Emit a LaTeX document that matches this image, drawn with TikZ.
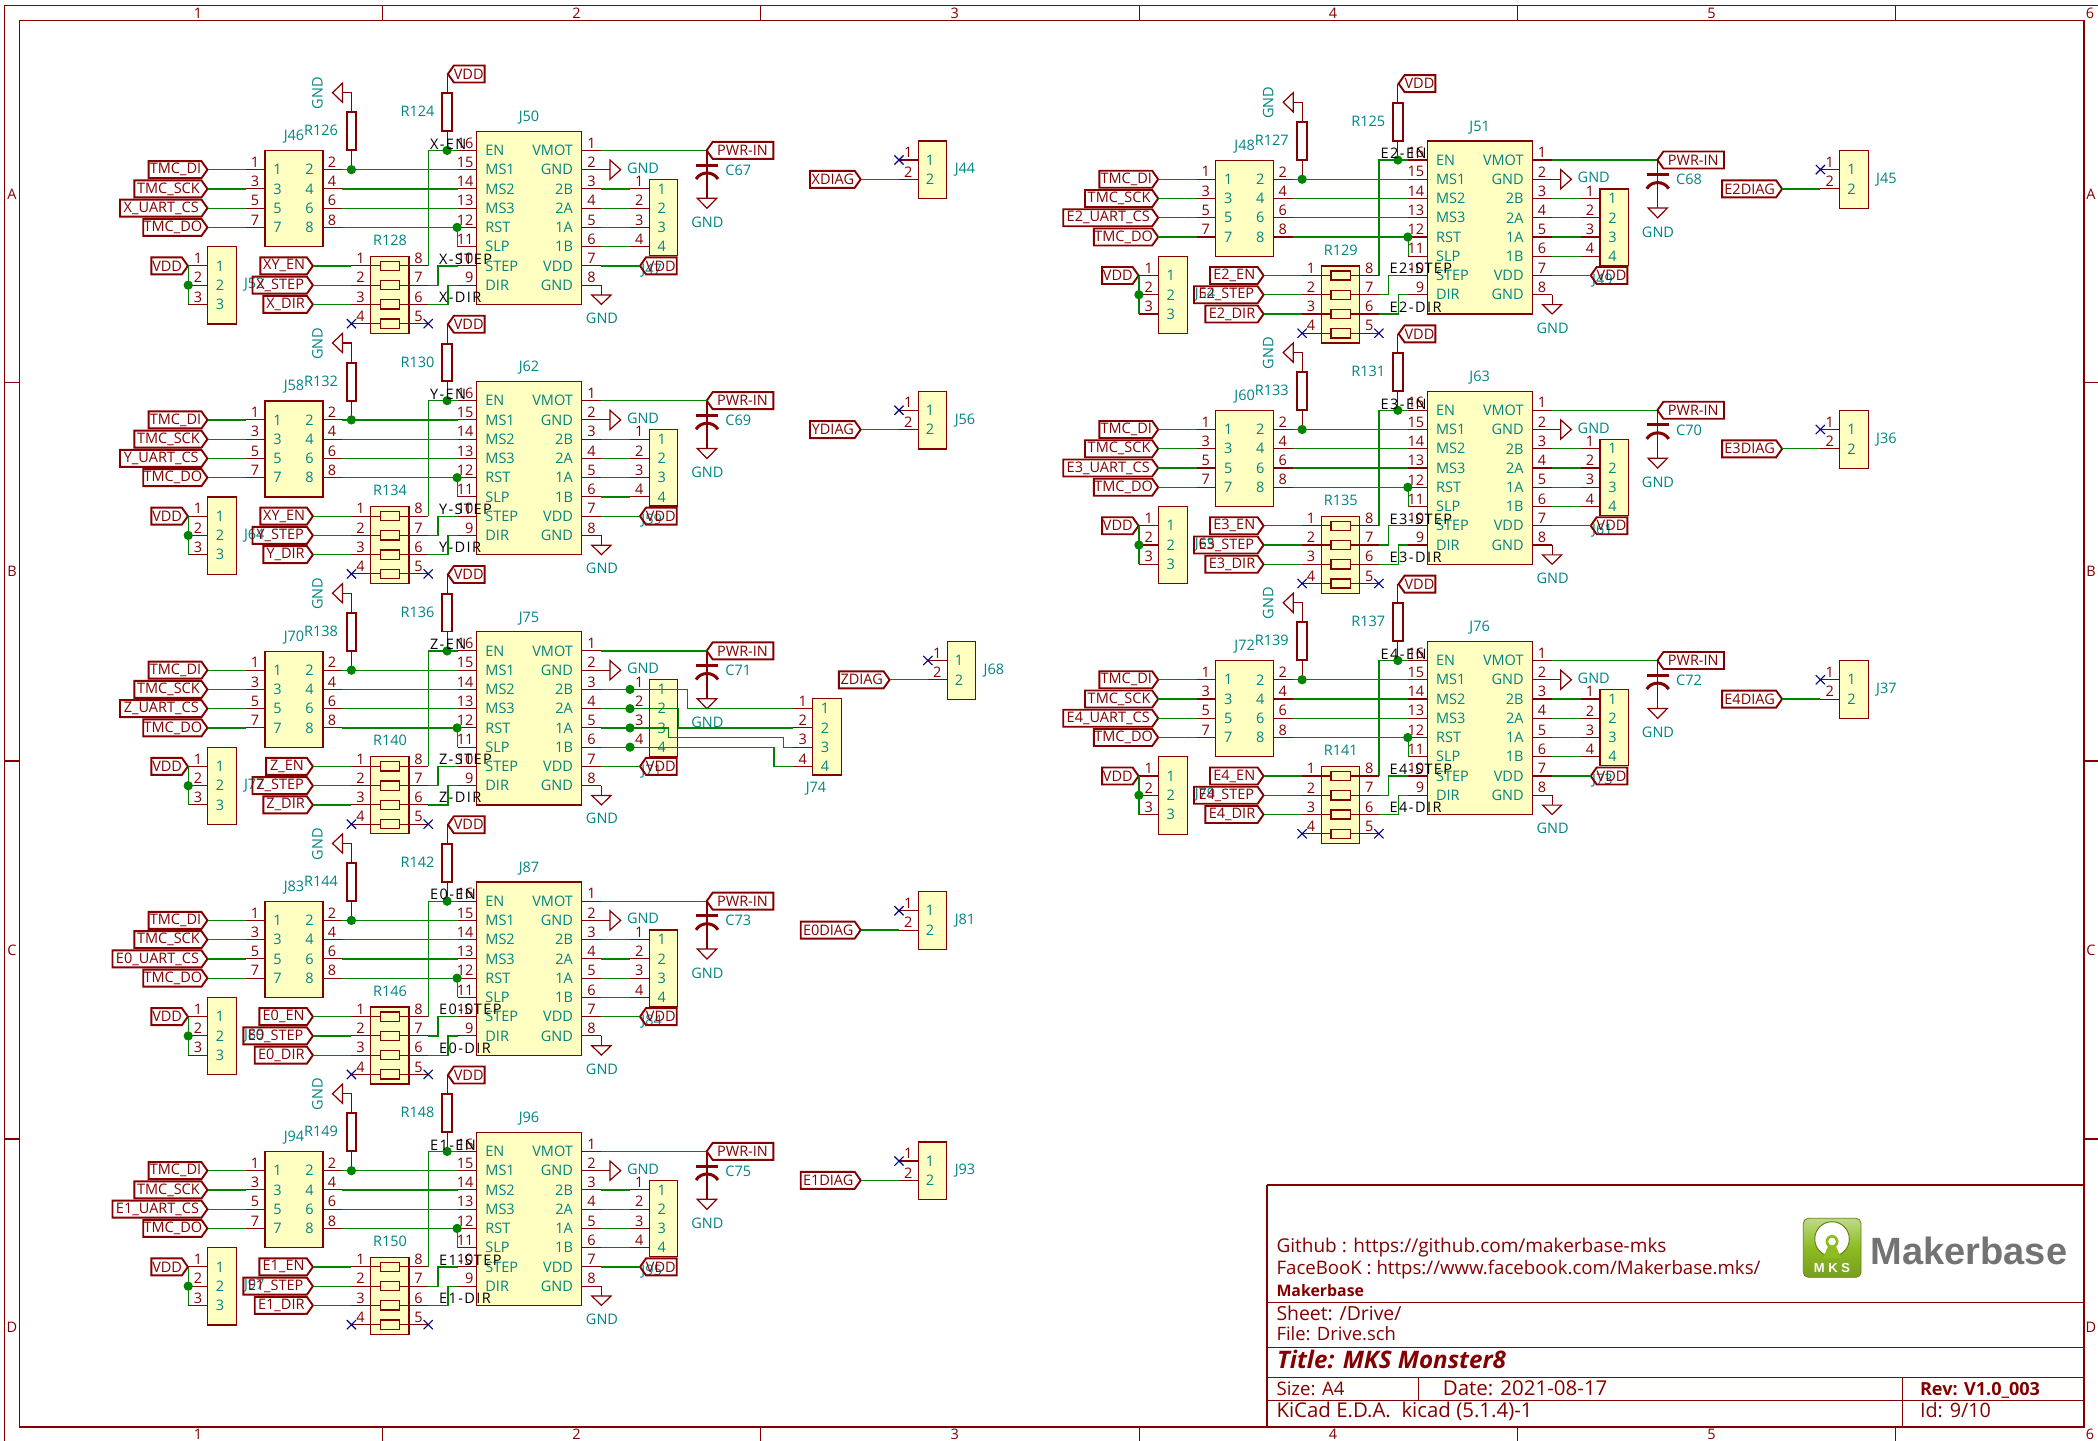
\documentclass[tikz,border=0pt]{standalone}
\usepackage{fontspec}
\usepackage{graphicx}
\setmainfont{Open Sans}
\newfontfamily\logofont{Liberation Sans}
\definecolor{kred}{HTML}{840000}
\definecolor{kteal}{HTML}{008484}
\definecolor{kgreen}{HTML}{008400}
\definecolor{kfill}{HTML}{FFFFC2}
\definecolor{kblue}{HTML}{000084}
\definecolor{lgreen}{HTML}{8CBB22}
\newcount\nid
\newcommand\rw[1]{\fpeval{150.4+19.25*(#1)}}
\newcommand\tx[4]{\global\advance\nid by 1 \node[#1] (t\the\nid) at (#2,#3) {#4};}
\tikzset{
  base/.style={inner sep=0pt,outer sep=0pt,font=\fontsize{14.5}{14.5}\selectfont},
  ttxt/.style={base,text=kteal},
  rtxt/.style={base,text=kred},
  ktxt/.style={base,text=black,font=\fontsize{14.5}{14.5}\selectfont\addfontfeature{LetterSpace=10}},
  ltxt/.style={base,text=kred},
  wire/.style={draw=kgreen,line width=1.3pt},
  pin/.style={draw=kred,line width=1.1pt},
  body/.style={draw=kred,fill=kfill,line width=1.2pt},
  lab/.style={draw=kred,line width=1.9pt,line join=miter},
  res/.style={draw=kred,fill=white,line width=1.9pt},
  resin/.style={draw=kred,fill=kfill,line width=1.3pt},
  gndt/.style={draw=kred,line width=1.2pt,line join=miter},
  junc/.style={circle,fill=kgreen,inner sep=0pt,minimum size=9.3pt},
  nc/.style={draw=kblue,line width=1.1pt},
  frame/.style={draw=kred,line width=1.1pt},
  tb/.style={base,text=kred,anchor=base west}
}
% hierarchical labels: tip x, y, width, text, node name
\newcommand\hlabR[5]{%
  \draw[lab] ({#1-#3},{#2-8.5}) -- ({#1-6},{#2-8.5}) -- (#1,#2) -- ({#1-6},{#2+8.5}) -- ({#1-#3},{#2+8.5}) -- cycle;
  \node[ltxt] (#5) at ({#1-#3/2-2.5},#2) {#4};
  \coordinate (#5-t) at (#1,#2);}
\newcommand\hlabL[5]{%
  \draw[lab] ({#1+#3},{#2-8.5}) -- ({#1+6},{#2-8.5}) -- (#1,#2) -- ({#1+6},{#2+8.5}) -- ({#1+#3},{#2+8.5}) -- cycle;
  \node[ltxt] (#5) at ({#1+#3/2+2.5},#2) {#4};
  \coordinate (#5-t) at (#1,#2);}
\newcommand\ncx[2]{\draw[nc] ({#1-4.6},{#2-4.6}) -- ({#1+4.6},{#2+4.6}) ({#1-4.6},{#2+4.6}) -- ({#1+4.6},{#2-4.6});}
% driver block
\newcommand\drv[9]{\def\dvX{#1}\def\dvY{#2}\def\dvP{#3}\def\dvRt{#4}\def\dvRg{#5}\def\dvJc{#6}\def\dvJq{#7}\def\dvJh{#8}\def\dvRp{#9}\drvB}
\newcommand\drvB[9]{\def\dvC{#1}\def\dvU{#2}\def\dvUw{#3}\def\dvE{#4}\def\dvEw{#5}\def\dvS{#6}\def\dvSw{#7}\def\dvD{#8}\def\dvDw{#9}\drvC}
\newcommand\drvC[1]{%
\begin{scope}[shift={(\dvX,\dvY)}]
  % named pin ends
  \foreach \i in {0,...,7}{
    \coordinate (\dvP-mL\i) at (457.5,\rw{\i});
    \coordinate (\dvP-mR\i) at (601.4,\rw{\i});}
  \foreach \i in {1,...,4}{
    \coordinate (\dvP-cL\i) at (246,\rw{\i});
    \coordinate (\dvP-cR\i) at (341.8,\rw{\i});
    \coordinate (\dvP-pL\i) at (351.4,\rw{\i+5});
    \coordinate (\dvP-pR\i) at (428.2,\rw{\i+5});
    \coordinate (\dvP-q\i) at (630,\rw{\i+1});}
  \coordinate (\dvP-sj) at (437.9,\rw{7});
  \coordinate (\dvP-dj) at (447.9,\rw{8});
  \coordinate (\dvP-h1) at (188.2,\rw{6});
  \coordinate (\dvP-h2) at (188.2,\rw{7});
  \coordinate (\dvP-h3) at (188.2,\rw{8});
  \coordinate (\dvP-pwr) at (707,\rw{0});
  % main module
  \draw[body] (476.4,131.3) rectangle (581.8,304.4);
  \foreach \i/\n/\a/\m/\b in {0/16/EN/1/VMOT,1/15/MS1/2/GND,2/14/MS2/3/2B,3/13/MS3/4/2A,4/12/RST/5/1A,5/11/SLP/6/1B,6/10/STEP/7/VDD,7/9/DIR/8/GND}{
    \draw[pin] (\dvP-mL\i) -- ++(18.9,0);
    \draw[pin] (\dvP-mR\i) -- ++(-19.6,0);
    \tx{rtxt,anchor=east}{473.5}{\rw{\i}-7.5}{\n}
    \tx{rtxt}{591.4}{\rw{\i}-7.5}{\m}
    \tx{ttxt,anchor=west}{485.4}{\rw{\i}}{\a}
    \tx{ttxt,anchor=east}{572.9}{\rw{\i}}{\b}
  }
  \tx{ttxt}{529}{117.7}{\dvP}
  % 8-pin header
  \draw[body] (265,150.7) rectangle (322.9,246.7);
  \foreach \i/\a/\b in {1/1/2,2/3/4,3/5/6,4/7/8}{
    \draw[pin] (\dvP-cL\i) -- ++(19,0);
    \draw[pin] (\dvP-cR\i) -- ++(-18.9,0);
    \tx{rtxt}{255}{\rw{\i}-7.5}{\a}
    \tx{rtxt}{332}{\rw{\i}-7.5}{\b}
    \tx{ttxt}{277.5}{\rw{\i}}{\a}
    \tx{ttxt}{309.6}{\rw{\i}}{\b}
    \draw[wire] (\dvP-cR\i) -- (\dvP-mL\i);
  }
  \tx{ttxt}{294}{136.7}{\dvJc}
  \hlabR{207.5}{\rw{1}}{58.9}{TMC\_DI}{\dvP-di}
  \hlabR{207.5}{\rw{2}}{73.2}{TMC\_SCK}{\dvP-sck}
  \hlabR{207.5}{\rw{3}}{\dvUw}{\dvU}{\dvP-cs}
  \hlabR{207.5}{\rw{4}}{64.3}{TMC\_DO}{\dvP-do}
  \draw[wire] (\dvP-di-t) -- (\dvP-cL1);
  \draw[wire] (\dvP-sck-t) -- (\dvP-cL2);
  \draw[wire] (\dvP-cs-t) -- (\dvP-cL3);
  \draw[wire] (\dvP-do-t) -- (\dvP-cL4);
  % top pull-up
  \hlabL{447.9}{74}{36.7}{VDD}{\dvP-vt}
  \draw[res] (442.3,93.3) rectangle (451.9,131);
  \draw[pin] (447.1,74) -- (447.1,93.3) (447.1,131) -- (447.1,\rw{0});
  \tx{ttxt}{417.5}{111.7}{\dvRt}
  % ground pull
  \draw[res] (346.6,112.3) rectangle (356.2,150.3);
  \draw[pin] (351.4,\rw{1}) -- (351.4,150.3) (351.4,112.3) -- (351.4,92.7) -- (342.5,92.7);
  \draw[gndt] (342.5,83.1) -- (342.5,102.3) -- (332.5,92.7) -- cycle;
  \tx{ttxt,rotate=90}{317.5}{93.3}{GND}
  \tx{ttxt}{321}{130.7}{\dvRg}
  % wiring to module
  \draw[wire] (\dvP-pR1) |- (\dvP-mL0);
  \draw[wire] (\dvP-pR2) -- (\dvP-sj) |- (\dvP-mL6);
  \draw[wire] (\dvP-pR3) -- (\dvP-dj) |- (\dvP-mL7);
  \draw[wire] (\dvP-mL4) -- (\dvP-mL5);
  \node[junc] (\dvP-j1) at (447.1,\rw{0}) {};
  \node[junc] (\dvP-j2) at (351.4,\rw{1}) {};
  \node[junc] (\dvP-j3) at (457.1,\rw{4}) {};
  \tx{ktxt,anchor=west}{430}{144}{#1-EN}
  \tx{ktxt,anchor=west}{439}{259}{#1-STEP}
  \tx{ktxt,anchor=west}{439}{297.3}{#1-DIR}
  % 3-pin header
  \draw[body] (207.5,246.7) rectangle (236.4,324);
  \foreach \i in {1,2,3}{
    \draw[pin] (\dvP-h\i) -- ++(19.3,0);
    \tx{rtxt}{198}{\rw{\i+5}-7.5}{\i}
    \tx{ttxt}{220}{\rw{\i+5}}{\i}}
  \tx{ttxt}{254.3}{285}{\dvJh}
  \hlabR{187.9}{\rw{6}}{36.5}{VDD}{\dvP-vh}
  \draw[wire] (\dvP-h1) -- (\dvP-h3);
  \node[junc] (\dvP-j4) at (\dvP-h2) {};
  % resistor pack
  \draw[body] (370.7,256.3) rectangle (408.9,333.3);
  \foreach \i/\a/\b in {1/1/8,2/2/7,3/3/6,4/4/5}{
    \draw[pin] (\dvP-pL\i) -- (\dvP-pR\i);
    \draw[resin] (380.4,\rw{\i+5}-4.6) rectangle (399.6,\rw{\i+5}+4.6);
    \tx{rtxt}{360.4}{\rw{\i+5}-7.5}{\a}
    \tx{rtxt}{418.6}{\rw{\i+5}-7.5}{\b}}
  \ncx{351.4}{\rw{9}}
  \ncx{428.2}{\rw{9}}
  \tx{ttxt}{390}{240.3}{\dvRp}
  \hlabR{312.9}{\rw{6}}{\dvEw}{\dvE}{\dvP-en}
  \hlabR{312.9}{\rw{7}}{\dvSw}{\dvS}{\dvP-st}
  \hlabR{312.9}{\rw{8}}{\dvDw}{\dvD}{\dvP-dr}
  \draw[wire] (\dvP-en-t) -- (\dvP-pL1);
  \draw[wire] (\dvP-st-t) -- (\dvP-pL2);
  \draw[wire] (\dvP-dr-t) -- (\dvP-pL3);
  % 4-pin motor header
  \draw[body] (649.3,179.3) rectangle (677.7,255.7);
  \foreach \i in {1,2,3,4}{
    \draw[pin] (\dvP-q\i) -- ++(19.3,0);
    \tx{rtxt}{639.3}{\rw{\i+1}-7.5}{\i}
    \tx{ttxt}{661.7}{\rw{\i+1}}{\i}}
  \draw[wire] (\dvP-mR2) -- (\dvP-q1);
  \draw[wire] (\dvP-mR3) -- (\dvP-q2);
  \draw[wire] (\dvP-mR4) -- (\dvP-q3);
  \draw[wire] (\dvP-mR5) -- (\dvP-q4);
  \tx{ttxt}{651.7}{270.7}{\dvJq}
  \hlabL{640}{\rw{6}}{36.7}{VDD}{\dvP-vq}
  \draw[wire] (\dvP-mR6) -- (\dvP-vq-t);
  % GNDs on module
  \draw[pin] (601.4,\rw{1}) -- (610,\rw{1});
  \draw[gndt] (610,\rw{1}-9.6) -- (620.7,\rw{1}) -- (610,\rw{1}+9.6) -- cycle;
  \tx{ttxt,anchor=west}{627}{168}{GND}
  \draw[pin] (601.4,\rw{7}) -- (601.4,295);
  \draw[gndt] (591.8,295) -- (611,295) -- (601.4,304.4) -- cycle;
  \tx{ttxt}{602}{318.3}{GND}
  % power and capacitor
  \hlabL{706.7}{\rw{0}}{66.6}{PWR-IN}{\dvP-pw}
  \draw[wire] (\dvP-mR0) -- (\dvP-pw-t);
  \draw[pin] (707,\rw{0}) -- (707,198.3);
  \draw[draw=kred,line width=3pt] (696,165) -- (718,165);
  \draw[draw=kred,line width=3pt] (696,179) .. controls (701,171) and (713,171) .. (718,179);
  \draw[gndt] (697.3,198.3) -- (716.7,198.3) -- (707,208.3) -- cycle;
  \tx{ttxt}{707.3}{222.3}{GND}
  \tx{ttxt}{738.3}{170}{\dvC}
\end{scope}}
% diag header
\newcommand\diag[5]{%
\begin{scope}[shift={(#1,#2)}]
  \coordinate (#3-p1) at (899,160);
  \coordinate (#3-p2) at (899,179.3);
  \draw[body] (918.3,141) rectangle (946.7,198.7);
  \draw[pin] (#3-p1) -- ++(19.3,0);
  \draw[pin] (#3-p2) -- ++(19.3,0);
  \ncx{899}{160}
  \tx{rtxt}{908.3}{152.5}{1}
  \tx{rtxt}{908.3}{171.8}{2}
  \tx{ttxt}{930}{160}{1}
  \tx{ttxt}{930}{179.3}{2}
  \tx{ttxt}{965}{170}{#3}
  \hlabR{860.7}{179.3}{#5}{#4}{#3-l}
  \draw[wire] (#3-l-t) -- (#3-p2);
\end{scope}}
\begin{document}
\begin{tikzpicture}[x=1pt,y=-1pt]
\path[use as bounding box,fill=white] (0,0) rectangle (2098,1440);
% frame
\draw[frame] (4.5,5.7) rectangle (2099,1442);
\draw[frame] (19.7,20.3) rectangle (2084,1427);
\foreach \x in {382.3,760.7,1139.1,1517.5,1895.9}{
  \draw[frame] (\x,5.7) -- (\x,20.3) (\x,1427) -- (\x,1442);}
\foreach \y in {382.7,761,1139}{
  \draw[frame] (4.5,\y) -- (19.7,\y) (2084,\y) -- (2099,\y);}
\foreach \n/\x in {1/198,2/576.4,3/954.8,4/1333,5/1711.6,6/2090}{
  \tx{rtxt}{\x}{13}{\n}
  \tx{rtxt}{\x}{1434}{\n}}
\foreach \n/\y in {A/194,B/571,C/950,D/1327}{
  \tx{rtxt}{12}{\y}{\n}
  \tx{rtxt}{2091}{\y}{\n}}
% left column
\drv{0}{0}{J50}{R124}{R126}{J46}{J47}{J52}{R128}{C67}{X\_UART\_CS}{87.5}{XY\_EN}{52.5}{X\_STEP}{60.4}{X\_DIR}{49.6}{X}
\drv{0}{250.25}{J62}{R130}{R132}{J58}{J59}{J64}{R134}{C69}{Y\_UART\_CS}{87.5}{XY\_EN}{52.5}{Y\_STEP}{60.4}{Y\_DIR}{49.6}{Y}
\drv{0}{500.5}{J75}{R136}{R138}{J70}{J71}{J77}{R140}{C71}{Z\_UART\_CS}{87.5}{Z\_EN}{46.8}{Z\_STEP}{60.4}{Z\_DIR}{49.6}{Z}
\drv{0}{750.75}{J87}{R142}{R144}{J83}{J84}{J89}{R146}{C73}{E0\_UART\_CS}{95}{E0\_EN}{53.6}{E0\_STEP}{69.6}{E0\_DIR}{58.2}{E0}
\drv{0}{1001}{J96}{R148}{R149}{J94}{J95}{J97}{R150}{C75}{E1\_UART\_CS}{95}{E1\_EN}{53.6}{E1\_STEP}{69.6}{E1\_DIR}{58.2}{E1}
% right column
\drv{950.7}{9.6}{J51}{R125}{R127}{J48}{J49}{J54}{R129}{C68}{E2\_UART\_CS}{95}{E2\_EN}{53.6}{E2\_STEP}{69.6}{E2\_DIR}{58.2}{E2}
\drv{950.7}{259.85}{J63}{R131}{R133}{J60}{J61}{J65}{R135}{C70}{E3\_UART\_CS}{95}{E3\_EN}{53.6}{E3\_STEP}{69.6}{E3\_DIR}{58.2}{E3}
\drv{950.7}{510.1}{J76}{R137}{R139}{J72}{J73}{J79}{R141}{C72}{E4\_UART\_CS}{95}{E4\_EN}{53.6}{E4\_STEP}{69.6}{E4\_DIR}{58.2}{E4}
% diag
\diag{0}{0}{J44}{XDIAG}{50.7}
\diag{0}{250.25}{J56}{YDIAG}{50.7}
\diag{28.9}{500.5}{J68}{ZDIAG}{50.7}
\diag{0}{750.75}{J81}{E0DIAG}{60}
\diag{0}{1001}{J93}{E1DIAG}{60}
\diag{921.4}{9.6}{J45}{E2DIAG}{60}
\diag{921.4}{269.5}{J36}{E3DIAG}{60}
\diag{921.4}{519.75}{J37}{E4DIAG}{60}
% Z block extras
\foreach \i in {1,2,3,4}{\node[junc] (Zj\i) at (J75-q\i) {};}
\draw[body] (812.3,698.3) rectangle (841.7,775);
\foreach \i/\yy in {1/708.65,2/727.9,3/747.15,4/766.4}{
  \coordinate (J74-p\i) at (793.3,\yy);
  \draw[pin] (J74-p\i) -- ++(19,0);
  \tx{rtxt}{802.7}{\yy-7.5}{\i}
  \tx{ttxt}{825}{\yy}{\i}}
\tx{ttxt}{816}{789}{J74}
\coordinate (zv1) at (687.3,689.4);
\coordinate (zv2) at (678.3,708.65);
\coordinate (zv3) at (668.3,727.9);
\coordinate (zv3b) at (668.3,737.3);
\coordinate (zv3c) at (783.3,737.3);
\coordinate (zv4) at (774,747.15);
\draw[wire] (J75-q1) -- (zv1) |- (J74-p1);
\draw[wire] (J75-q2) -- (zv2) |- (J74-p2);
\draw[wire] (J75-q3) -- (zv3) -- (zv3b) -- (zv3c) |- (J74-p3);
\draw[wire] (J75-q4) -- (zv4) |- (J74-p4);
% title block
\draw[frame] (1267,1185) -- (2084,1185) (1267,1185) -- (1267,1427);
\draw[frame] (1267,1302.3) -- (2084,1302.3) (1267,1347.7) -- (2084,1347.7) (1267,1377.7) -- (2084,1377.7) (1267,1400.3) -- (2084,1400.3);
\draw[frame] (1418.7,1377.7) -- (1418.7,1400.3) (1902.4,1377.7) -- (1902.4,1427);
\node[tb] (tb1) at (1276.5,1252.2) {\resizebox{390pt}{!}{Github : https://github.com/makerbase-mks}};
\node[tb] (tb2) at (1276.5,1274.2) {\resizebox{484pt}{!}{FaceBooK : https://www.facebook.com/Makerbase.mks/}};
\node[tb] (tb3) at (1276.5,1296.5) {\resizebox{87.5pt}{!}{\bfseries Makerbase}};
\node[tb] (tb4) at (1276.5,1320.3) {\resizebox{125pt}{!}{Sheet: /Drive/}};
\node[tb] (tb5) at (1276.5,1340.3) {\resizebox{119.5pt}{!}{File: Drive.sch}};
\node[tb] (tb6) at (1277,1368.7) {\resizebox{229pt}{!}{\bfseries\itshape Title: MKS Monster8}};
\node[tb] (tb7) at (1276.5,1395.7) {\resizebox{68pt}{!}{Size: A4}};
\node[tb] (tb8) at (1442.8,1395.7) {\resizebox{164.6pt}{!}{Date: 2021-08-17}};
\node[tb] (tb9) at (1920,1395.7) {\resizebox{120pt}{!}{\bfseries Rev: V1.0\_003}};
\node[tb] (tb10) at (1276.5,1417.5) {\resizebox{256pt}{!}{KiCad E.D.A.\ \ kicad (5.1.4)-1}};
\node[tb] (tb11) at (1920,1417.5) {\resizebox{71pt}{!}{Id: 9/10}};
% logo
\path[top color=lgreen!55!white,bottom color=lgreen!85!black,middle color=lgreen,draw=lgreen!70!black,line width=0.8pt,rounded corners=5pt] (1803.3,1218.3) rectangle (1861,1277.3);
\fill[white] (1832,1239) circle (17.3);
\draw[lgreen!70!black,line width=1pt] (1832,1239) circle (17.3);
\fill[lgreen] (1829,1244) -- (1835,1244) -- (1841,1258) -- (1823,1258) -- cycle;
\fill[lgreen] (1832,1241.5) circle (6.5);
\fill[white] (1832,1241.5) circle (3.8);
\node[base,text=white,font=\logofont\fontsize{13}{13}\bfseries\selectfont] (logomks) at (1832,1267.7) {M K S};
\node[base,anchor=base west,text=black!55,font=\logofont\fontsize{38}{38}\bfseries\selectfont] (logotext) at (1870.7,1264) {Makerbase};
\end{tikzpicture}
\end{document}
